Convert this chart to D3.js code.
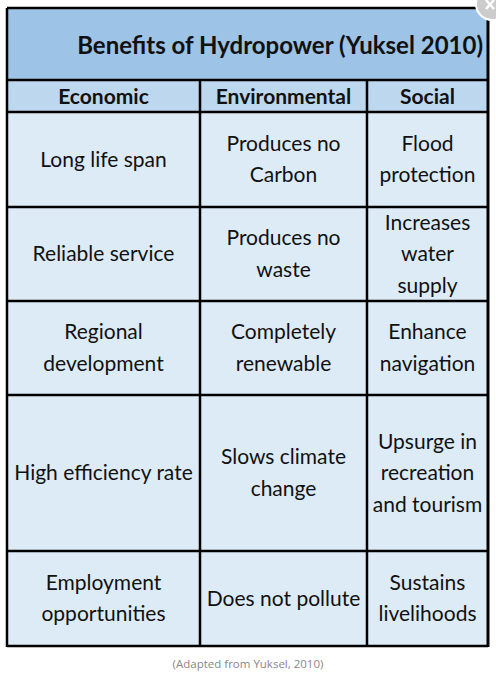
<!DOCTYPE html><html><head><meta charset="utf-8"><script src="https://cdn.jsdelivr.net/npm/d3@7"></script>
<style>body{margin:0;background:#fff}</style></head><body><svg id="c" width="496" height="676"></svg><script>
const title="Benefits of Hydropower (Yuksel 2010)";
const columns=["Economic","Environmental","Social"];
const economic=[["Long life span"],["Reliable service"],["Regional","development"],["High efficiency rate"],["Employment","opportunities"]];
const environmental=[["Produces no","Carbon"],["Produces no","waste"],["Completely","renewable"],["Slows climate","change"],["Does not pollute"]];
const social=[["Flood","protection"],["Increases","water","supply"],["Enhance","navigation"],["Upsurge in","recreation","and tourism"],["Sustains","livelihoods"]];
const rowBounds=[112,207,301,395,551,646];
const colBounds=[7,200,367,488];
const caption="(Adapted from Yuksel, 2010)";
const svg=d3.select("#c"), F="Lato, 'Open Sans', sans-serif";
const data=[economic,environmental,social];
svg.append("rect").attr("x",7).attr("y",8).attr("width",481).attr("height",72).attr("fill","#9dc3e6");
svg.append("text").attr("x",483).attr("y",54).attr("text-anchor","end").attr("font-family",F).attr("font-weight","bold").attr("font-size",24).attr("fill","#111").text(title);
svg.append("rect").attr("x",7).attr("y",80).attr("width",481).attr("height",32).attr("fill","#bdd7ee");
columns.forEach((c,i)=>svg.append("text").attr("x",(colBounds[i]+colBounds[i+1])/2).attr("y",104).attr("text-anchor","middle").attr("font-family",F).attr("font-weight","bold").attr("font-size",21).attr("fill","#111").text(c));
for(let r=0;r<5;r++){
 for(let c=0;c<3;c++){
  const x0=colBounds[c],x1=colBounds[c+1],y0=rowBounds[r],y1=rowBounds[r+1];
  svg.append("rect").attr("x",x0).attr("y",y0).attr("width",x1-x0).attr("height",y1-y0).attr("fill","#ddebf7");
  const lines=data[c][r], lh=31.5, cy=(y0+y1)/2;
  lines.forEach((t,k)=>svg.append("text").attr("x",(x0+x1)/2).attr("y",cy+(k-(lines.length-1)/2)*lh+7).attr("text-anchor","middle").attr("font-family",F).attr("font-size",21).attr("fill","#111").text(t));
 }
}
const L=(x1,y1,x2,y2,w,col="#000")=>svg.append("line").attr("x1",x1).attr("y1",y1).attr("x2",x2).attr("y2",y2).attr("stroke",col).attr("stroke-width",w);
L(7,8,488,8,2.5);
L(7,80,488,80,2.5);
rowBounds.forEach(y=>L(7,y,488,y,2.5));
L(7,8,7,647,2.5);L(488,8,488,647,3);
[200,367].forEach(x=>L(x,80,x,647,2.5));
svg.append("text").attr("x",248).attr("y",668).attr("text-anchor","middle").attr("font-family","'Open Sans', sans-serif").attr("font-size",11.5).attr("fill","#888").text(caption);
svg.append("circle").attr("cx",492).attr("cy",4).attr("r",16).attr("fill","#ccc").attr("stroke","#fff").attr("stroke-width",2);
L(486,0,494,9,2.5,"#fff");L(494,0,486,9,2.5,"#fff");
</script></body></html>
